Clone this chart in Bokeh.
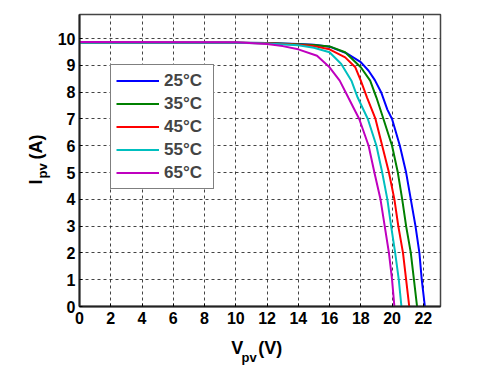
import math
from bokeh.plotting import figure
from bokeh.models import Legend, LegendItem, Range1d, FixedTicker
from bokeh.layouts import row, column
from bokeh.core.properties import value
from bokeh.embed import file_html
from bokeh.resources import INLINE

# Data (V in volts, I in amps)
v_25 = [0, 10, 12, 14, 15, 16, 17.1, 18, 18.5, 18.9, 19.3, 19.7, 20.0, 20.5, 20.9, 21.2, 21.5, 21.75, 21.9, 22.1]
i_25 = [9.85, 9.85, 9.84, 9.8, 9.77, 9.7, 9.45, 9.12, 8.8, 8.45, 8.0, 7.35, 7.0, 6.0, 5.0, 4.0, 3.0, 2.0, 1.0, 0]

v_35 = [0, 10, 12, 14, 15, 16, 17, 18, 18.6, 19.0, 19.45, 20.0, 20.37, 20.65, 20.9, 21.2, 21.4, 21.6]
i_35 = [9.85, 9.85, 9.84, 9.79, 9.76, 9.71, 9.49, 8.93, 8.43, 7.8, 7.0, 6.0, 5.0, 4.0, 3.0, 2.0, 1.0, 0]

v_45 = [0, 10, 12, 14, 15, 16, 17, 17.65, 18, 18.4, 18.94, 19.37, 19.8, 20.15, 20.4, 20.7, 20.9, 21.1]
i_45 = [9.85, 9.85, 9.83, 9.77, 9.72, 9.6, 9.3, 8.93, 8.43, 7.8, 7.0, 6.0, 5.0, 4.0, 3.0, 2.0, 1.0, 0]

v_55 = [0, 10, 12, 14, 15, 16, 16.75, 17.4, 17.8, 18.45, 19.0, 19.37, 19.7, 19.94, 20.2, 20.43, 20.6]
i_55 = [9.85, 9.85, 9.82, 9.75, 9.66, 9.49, 9.05, 8.43, 7.8, 7.0, 6.0, 5.0, 4.0, 3.0, 2.0, 1.0, 0]

v_65 = [0, 10, 12, 13, 14, 15.2, 16, 16.65, 17.2, 17.9, 18.5, 18.87, 19.26, 19.53, 19.8, 20.0, 20.15]
i_65 = [9.87, 9.86, 9.8, 9.72, 9.6, 9.36, 8.93, 8.43, 7.8, 7.0, 6.0, 5.0, 4.0, 3.0, 2.0, 1.0, 0]

labels = ["25\u00b0C", "35\u00b0C", "45\u00b0C", "55\u00b0C", "65\u00b0C"]
colors = ["#0000FF", "#008000", "#FF0000", "#00BFBF", "#BF00BF"]
x_ticks = [0, 2, 4, 6, 8, 10, 12, 14, 16, 18, 20, 22]
y_ticks = [0, 1, 2, 3, 4, 5, 6, 7, 8, 9, 10]

FONT = "Liberation Sans"
X_MAX, Y_MAX = 23.1, 10.9
FW, FH = 361, 292
YW = 52           # width of the strip holding the y-axis title
TOTAL_H = 366
LEFT = 79 - YW
MAIN_H = 14 + FH + 26
MAIN_W = LEFT + FW + 40

p = figure(width=MAIN_W, height=MAIN_H, output_backend="svg", toolbar_location=None,
           x_range=Range1d(0, X_MAX), y_range=Range1d(0, Y_MAX),
           min_border_left=LEFT, min_border_top=14, min_border_right=40, min_border_bottom=26)
p.frame_width = FW
p.frame_height = FH
p.background_fill_color = "white"
p.border_fill_color = "white"
p.outline_line_color = "#444444"
p.outline_line_width = 1.5

for ax in (p.xaxis, p.yaxis):
    ax.major_label_text_font = FONT
    ax.major_label_text_font_style = "bold"
    ax.major_label_text_font_size = "16px"
    ax.major_label_text_color = "black"
    ax.axis_line_color = "#222222"
    ax.axis_line_width = 2
    ax.major_tick_in = 3
    ax.major_tick_out = 0
    ax.minor_tick_line_color = None
    ax.major_label_standoff = 5
p.yaxis.major_label_standoff = 4
p.xaxis.ticker = FixedTicker(ticks=x_ticks)
p.yaxis.ticker = FixedTicker(ticks=y_ticks)

for g in (p.xgrid, p.ygrid):
    g.grid_line_color = "#222222"
    g.grid_line_dash = "3 3"
    g.grid_line_width = 1
    g.grid_line_alpha = 0.85

series = [(v_25, i_25), (v_35, i_35), (v_45, i_45), (v_55, i_55), (v_65, i_65)]
items = []
for (vv, ii), lab, col in zip(series, labels, colors):
    r = p.line(vv, ii, line_color=col, line_width=2)
    items.append(LegendItem(label=lab, renderers=[r]))

legend = Legend(items=items, location=(31, 117), padding=5, spacing=2,
                glyph_width=43, glyph_height=21, label_height=21, label_width=44,
                label_standoff=5, label_text_font=FONT, label_text_font_style="bold",
                label_text_font_size="17px", border_line_color="black",
                border_line_width=1.5, background_fill_alpha=1.0, margin=0)
p.add_layout(legend)


def text_strip(w, h):
    f = figure(width=w, height=h, output_backend="svg", toolbar_location=None,
               x_range=Range1d(0, w), y_range=Range1d(0, h), min_border=0)
    f.axis.visible = False
    f.grid.visible = False
    f.outline_line_color = None
    f.background_fill_color = "white"
    f.border_fill_color = "white"
    return f


def put(f, x, y, txt, size, angle=0.0):
    f.text(x=[x], y=[y], text=[txt], angle=angle, text_font=value(FONT),
           text_font_style="bold", text_font_size=value(size), text_color="black",
           text_align="left", text_baseline="alphabetic")


# x-axis title: V_pv (V)  (strip starts at page x = YW)
xt = text_strip(MAIN_W, TOTAL_H - MAIN_H)
put(xt, 232 - YW, 19, "V", "18px")
put(xt, 244 - YW, 9, "pv", "13px")
put(xt, 264 - YW, 19, "(V)", "18px")

# y-axis title: I_pv (A), rotated
yt = text_strip(YW, TOTAL_H)
put(yt, 35, 182, "I", "18px", math.pi / 2)
put(yt, 42, 188, "pv", "13px", math.pi / 2)
put(yt, 35, 207, "(A)", "18px", math.pi / 2)

layout = row(yt, column(p, xt, spacing=0), spacing=0)

open("out.html", "w").write(file_html(layout, INLINE))
